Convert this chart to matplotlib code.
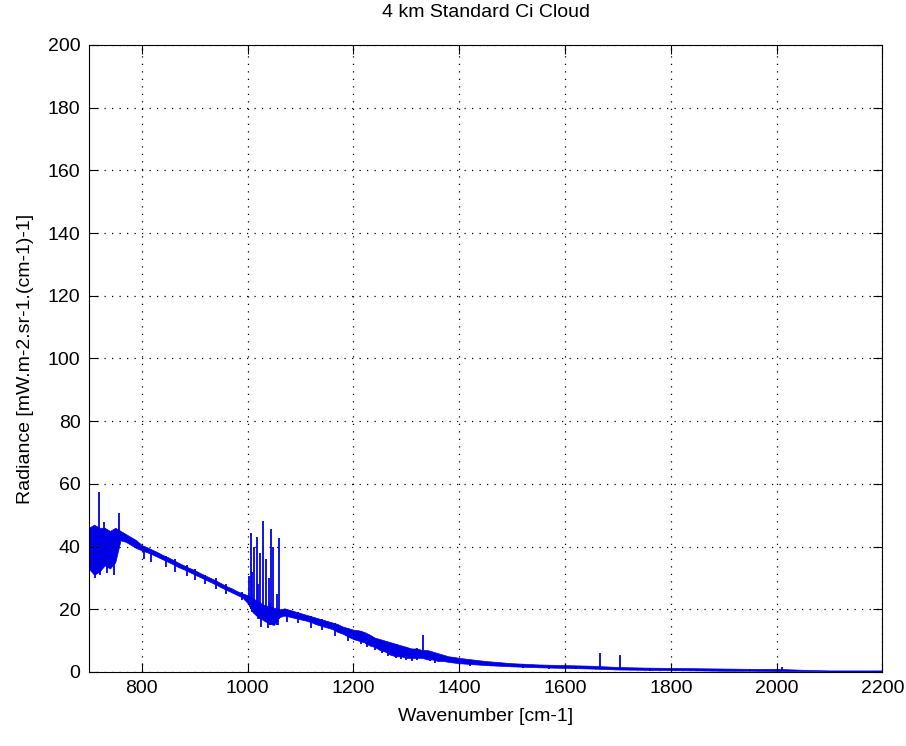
import matplotlib
matplotlib.use('Agg')
import matplotlib.pyplot as plt
import numpy as np

plt.rcParams['font.family'] = ['Liberation Sans', 'DejaVu Sans']

# envelope of the dense spectrum (wavenumber, upper, lower)
wn = [700, 710, 720, 730, 740, 750, 760, 770, 780, 790,
      800, 810, 820, 830, 840, 850, 860, 870, 880, 890,
      900, 910, 920, 930, 940, 950, 960, 970, 980, 990,
      1000, 1010, 1020, 1030, 1040, 1050, 1060, 1070, 1080, 1090,
      1100, 1110, 1120, 1130, 1140, 1150, 1160, 1170, 1180, 1190,
      1200, 1210, 1220, 1230, 1240, 1250, 1260, 1270, 1280, 1290,
      1300, 1310, 1320, 1330, 1340, 1350, 1360, 1370, 1380, 1390,
      1400, 1450, 1500, 1550, 1600, 1650, 1700, 1750, 1800, 1850,
      1900, 1950, 2000, 2050, 2100, 2150, 2200]
upper = [46, 47, 46, 46, 45, 46, 45, 44, 43, 42,
         40.5, 39.8, 39, 38.2, 37.3, 36.6, 35.7, 34.8, 34, 33.2,
         32.5, 31.6, 30.8, 30, 29.2, 28.3, 27.4, 26.7, 25.8, 25.1,
         24.5, 23.5, 22.5, 21.5, 21, 20.5, 20, 20.3, 19.8, 19.3,
         18.8, 18.3, 17.8, 17.3, 16.8, 16.3, 15.8, 15.3, 14.5, 14,
         13.5, 13.3, 12.8, 12, 11, 10.5, 10, 9.5, 9, 8.5,
         8, 7.5, 7.5, 7, 7, 6.5, 6, 5.5, 5, 4.8,
         4.5, 3.5, 2.8, 2.4, 2.2, 2.0, 1.6, 1.4, 1.3, 1.2,
         1.1, 1.0, 1.0, 0.7, 0.5, 0.5, 0.5]
lower = [33, 31, 32, 34, 33, 35, 42, 41.5, 40.5, 39.5,
         38.8, 38.2, 37.5, 36.7, 35.9, 35.1, 34.3, 33.4, 32.7, 31.9,
         31.1, 30.3, 29.5, 28.7, 27.9, 27, 26.2, 25.4, 24.6, 23.8,
         22, 19, 17.5, 16.5, 15.5, 15, 17.5, 18, 17.6, 17.2,
         16.8, 16.4, 15.9, 15.2, 14.7, 14.2, 13.7, 12.8, 12.2, 11.3,
         10.5, 10, 9.5, 8.5, 8, 7, 6.5, 5.5, 5, 5,
         4.5, 4.5, 4.5, 4.5, 4, 4, 3.5, 3.5, 3.2, 3,
         2.8, 2.2, 1.8, 1.5, 1.3, 1.1, 0.8, 0.7, 0.6, 0.5,
         0.4, 0.4, 0.3, 0.3, 0.3, 0.3, 0.3]

# narrow emission / absorption lines (wavenumber, bottom, top)
line_wn = [712, 719, 722, 728, 735, 748, 757, 805, 818, 845,
           862, 885, 900, 920, 940, 960, 990, 1003, 1006, 1008,
           1012, 1017, 1020, 1024, 1025, 1029, 1035, 1038, 1040, 1042,
           1045, 1049, 1055, 1058, 1060, 1075, 1095, 1120, 1140, 1165,
           1190, 1215, 1225, 1240, 1255, 1265, 1280, 1290, 1300, 1310,
           1320, 1332, 1345, 1355, 1420, 1460, 1520, 1570, 1620, 1666,
           1704, 1760, 1850, 1950, 2010]
line_lo = [30, 40, 31, 38, 31.5, 31, 42, 36, 35, 33.5,
           32, 30.5, 29.5, 28, 26.5, 25, 23, 22, 20, 19,
           19, 18, 17, 17, 14.5, 17, 16, 14, 15.5, 15,
           16, 15, 15, 15, 17, 16, 15.5, 14, 13.4, 11.5,
           10, 9, 8, 7, 6, 5, 4.5, 4, 3.8, 3.5,
           3.8, 6, 3.5, 3, 2, 1.8, 1.2, 1, 0.8, 1.5,
           1.2, 0.3, 0.2, 0.2, 0.2]
line_hi = [40, 57.5, 38, 48, 40, 40, 50.8, 40, 39, 37,
           36, 34, 33, 31, 30, 28, 25.5, 30.5, 44.4, 32,
           40, 43.2, 28, 38, 20, 48.3, 36, 20, 30, 22,
           45.6, 40, 25, 19, 42.7, 20, 19, 18, 17, 15.5,
           14, 13, 12, 10, 10, 9.5, 9, 8, 8, 7,
           7.5, 11.8, 6.5, 6, 3.5, 3, 2.5, 2.2, 2, 6,
           5.4, 1.3, 1.1, 1.0, 1.5]

fig = plt.figure(figsize=(9.06, 7.46), dpi=100)
ax = fig.add_axes([0.098, 0.0992, 0.876, 0.8405])

blue = '#0000e6'
ax.fill_between(wn, lower, upper, color=blue, lw=0.5)
ax.vlines(line_wn, line_lo, line_hi, color=blue, lw=1.3)

ax.set_xlim(700, 2200)
ax.set_ylim(0, 200)
ax.set_xticks(np.arange(800, 2201, 200))
ax.set_yticks(np.arange(0, 201, 20))

ax.grid(True, color='black', linestyle=(0, (1, 5)), linewidth=0.9)
ax.tick_params(direction='in', length=6.5, width=0.8, top=True, right=True,
               labelsize=14, pad=6)
for s in ax.spines.values():
    s.set_linewidth(0.8)

ax.set_title('4 km Standard Ci Cloud', fontsize=14, pad=20)
ax.set_xlabel('Wavenumber [cm-1]', fontsize=14, labelpad=8)
ax.set_ylabel('Radiance [mW.m-2.sr-1.(cm-1)-1]', fontsize=14, labelpad=10)

fig.savefig('out.png', dpi=100)
